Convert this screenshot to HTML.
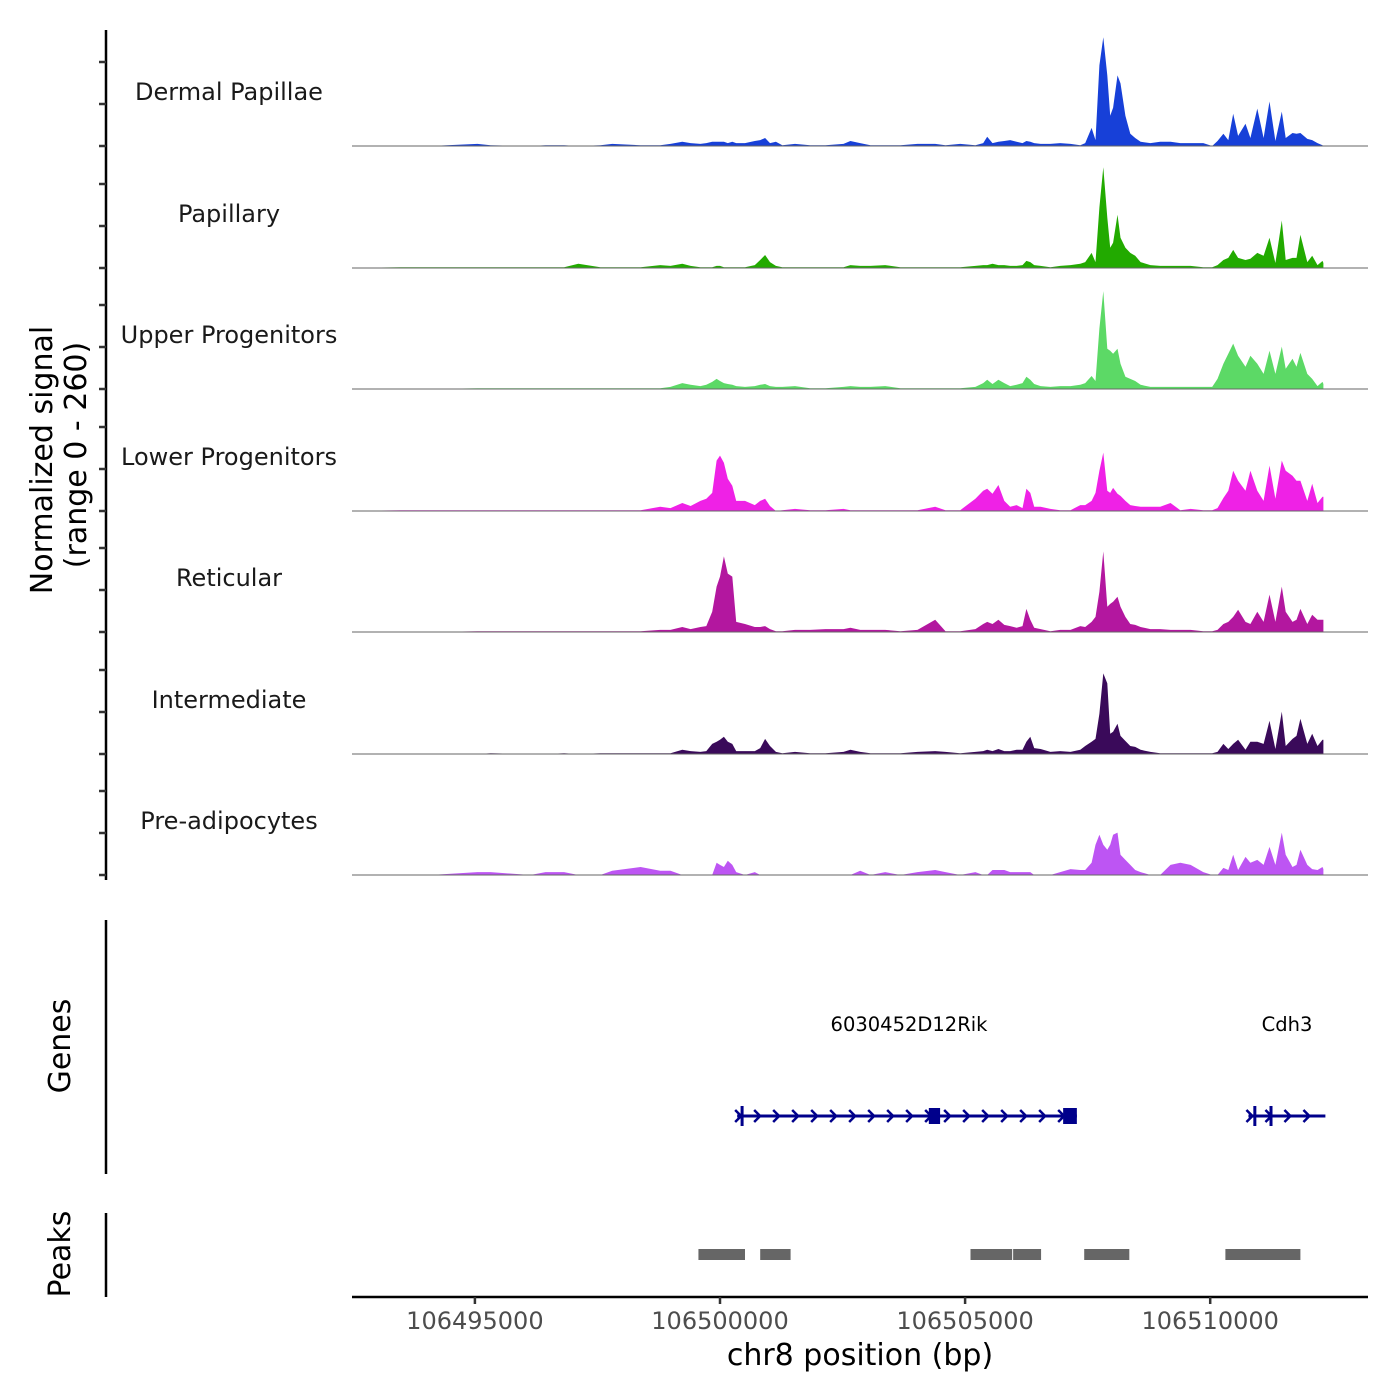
<!DOCTYPE html>
<html><head><meta charset="utf-8"><style>
html,body{margin:0;padding:0;background:#fff;}
svg{display:block;font-family:"DejaVu Sans","Liberation Sans",sans-serif;}
</style></head><body>
<svg id="chart" width="1400" height="1400" viewBox="0 0 1400 1400" xmlns="http://www.w3.org/2000/svg">
<rect width="1400" height="1400" fill="#fff"/>
<g id="tracks"></g>
<g id="ylabels"></g>
<line x1="106" y1="30" x2="106" y2="880" stroke="#000" stroke-width="2.5"/>
<g id="yticks"></g>
<text transform="translate(52,460) rotate(-90)" text-anchor="middle" font-size="30" fill="#000">Normalized signal</text>
<text transform="translate(86,455) rotate(-90)" text-anchor="middle" font-size="30" fill="#000">(range 0 - 260)</text>
<line x1="106" y1="920" x2="106" y2="1174" stroke="#000" stroke-width="2.5"/>
<text transform="translate(70,1046) rotate(-90)" text-anchor="middle" font-size="30" fill="#000">Genes</text>
<g id="genes"></g>
<line x1="106" y1="1213" x2="106" y2="1297" stroke="#000" stroke-width="2.5"/>
<text transform="translate(70,1254) rotate(-90)" text-anchor="middle" font-size="30" fill="#000">Peaks</text>
<g id="peaks"></g>
<line x1="352" y1="1297" x2="1368" y2="1297" stroke="#000" stroke-width="2.5"/>
<g id="xticks"></g>
<text x="860" y="1365" text-anchor="middle" font-size="30" fill="#000">chr8 position (bp)</text>
</svg>
<script>
// positions in kb (chr8)
const positions = [106492.50,106493.48,106494.09,106495.05,106495.32,106496.13,106496.44,106496.82,106497.11,106497.56,
106497.80,106498.38,106498.78,106498.99,106499.23,106499.40,106499.60,106499.72,106499.84,106499.93,
106500.00,106500.08,106500.16,106500.25,106500.33,106500.51,106500.71,106500.82,106500.92,106501.02,
106501.14,106501.27,106501.53,106501.84,106502.15,106502.52,106502.66,106502.86,106503.07,106503.37,
106503.68,106504.03,106504.39,106504.60,106504.90,106505.21,106505.37,106505.45,106505.56,106505.68,
106505.80,106505.92,106506.05,106506.17,106506.25,106506.33,106506.41,106506.54,106506.74,106506.94,
106507.15,106507.35,106507.45,106507.58,106507.66,106507.74,106507.82,106507.90,106507.96,106508.02,
106508.11,106508.17,106508.27,106508.37,106508.47,106508.58,106508.78,106508.98,106509.19,106509.39,
106509.60,106509.86,106510.04,106510.15,106510.27,106510.37,106510.47,106510.57,106510.72,106510.82,
106510.96,106511.09,106511.21,106511.33,106511.46,106511.54,106511.68,106511.76,106511.84,106511.98,
106512.08,106512.19,106512.29,106512.31];
const trackNames = ["Dermal Papillae","Papillary","Upper Progenitors","Lower Progenitors","Reticular","Intermediate","Pre-adipocytes"];
const valsDermalPapillae = [0,0,0,5,2,0,2,2,0,2, 5,2,2,5,10,7,5,7,10,10, 10,10,7,10,7,7,12,14,19,7, 10,2,5,2,2,5,12,7,2,2, 2,5,5,2,5,2,7,22,7,10, 12,14,10,7,12,10,7,5,5,7, 5,2,7,43,14,192,259,168,72,91, 168,149,72,29,19,10,7,10,10,7, 7,7,0,12,29,14,77,24,53,19, 89,19,106,12,82,19,31,29,31,17, 14,7,2,0];
const valsPapillary = [0,2,2,2,2,2,2,2,10,2, 2,2,7,5,10,5,2,2,2,5, 5,2,2,2,2,2,7,19,31,14, 5,2,2,2,2,2,7,5,5,7, 2,2,2,2,2,5,7,7,10,7, 7,5,5,7,17,14,7,5,2,5, 7,10,14,36,14,144,240,120,48,60, 127,72,48,36,29,14,7,5,5,5, 5,2,2,7,19,24,43,24,19,22, 36,29,72,12,113,19,24,24,79,14, 29,7,17,12];
const valsUpperProg = [0,0,0,2,2,2,2,2,2,2, 2,2,2,5,14,10,7,10,17,24, 19,14,12,10,7,5,7,10,12,7, 5,5,7,2,2,5,7,5,5,7, 2,2,2,2,2,5,14,22,12,22, 14,7,10,14,29,22,12,7,5,7, 7,10,14,31,19,144,233,96,91,84, 96,60,29,24,19,10,5,5,5,5, 5,5,5,24,60,84,108,79,53,79, 60,36,91,36,101,48,72,53,86,36, 24,7,17,12];
const valsLowerProg = [0,2,2,2,2,2,2,2,2,2, 2,2,10,7,19,12,24,29,43,120, 132,115,77,60,24,24,14,24,29,12, 0,2,5,2,2,5,2,2,2,2, 2,2,10,2,2,29,48,53,41,62, 24,10,14,7,53,43,10,10,5,2, 2,14,14,24,43,96,139,48,43,55, 41,36,24,14,12,10,10,10,19,2, 5,2,2,7,31,48,96,72,48,96, 48,24,108,29,120,96,84,72,72,24, 65,19,34,34];
const valsReticular = [0,0,0,2,2,2,2,2,2,2, 2,2,5,5,12,7,12,14,48,108, 132,180,139,132,24,19,12,12,14,7, 2,2,5,5,7,7,10,5,5,5, 2,5,29,2,2,7,19,24,19,29, 17,14,10,14,55,29,10,7,2,5, 5,14,12,24,36,96,192,60,67,72, 84,60,36,19,17,12,7,7,5,5, 5,2,2,5,19,24,36,53,24,19, 48,24,89,24,108,48,24,29,55,19, 41,29,29,29];
const valsIntermediate = [0,0,0,0,2,0,0,2,0,2, 2,2,2,2,10,7,5,7,24,29, 34,41,29,24,7,7,7,14,36,19, 5,2,5,2,2,5,10,5,2,2, 2,5,7,5,2,5,7,10,7,12, 7,7,10,10,29,41,14,12,5,7, 5,10,19,29,36,96,192,168,48,53, 72,43,31,19,17,10,5,2,2,2, 2,2,2,5,24,12,24,34,10,29, 29,24,79,12,101,19,36,43,84,24, 48,19,34,34];
const valsPreAdipo = [0,0,0,7,7,0,7,7,0,0, 10,19,10,10,0,0,0,0,0,29, 24,19,34,24,7,0,7,0,0,0, 0,0,0,0,0,0,0,10,0,7, 0,7,12,7,0,7,0,0,12,12, 12,7,7,7,7,7,0,0,0,7, 14,12,12,29,72,96,72,60,72,96, 101,48,36,24,12,7,0,0,24,29, 24,7,0,0,17,12,48,12,43,29, 36,24,67,24,101,48,19,24,60,24, 14,12,19,14];
const trackColors = ["#1740d8","#22aa00","#5cd966","#ef21e6","#b3179f","#3a0a5a","#bd55f3"];
const yTickValues = [0,100,200];
const xTickValues = [106495,106500,106505,106510];
const geneNames = ["6030452D12Rik","Cdh3"];
const geneStarts = [106500.35,106510.78];
const geneEnds = [106507.28,106512.35];
const exonStarts = [106500.42,106504.26,106507.00,106510.88,106511.21];
const exonEnds = [106500.46,106504.49,106507.28,106510.94,106511.27];
const exonTall = [0,1,1,0,0];
const peakStarts = [106499.56,106500.82,106505.11,106505.98,106507.43,106510.31];
const peakEnds = [106500.51,106501.44,106505.96,106506.55,106508.35,106511.84];

const NS="http://www.w3.org/2000/svg";
const allVals=[valsDermalPapillae,valsPapillary,valsUpperProg,valsLowerProg,valsReticular,valsIntermediate,valsPreAdipo];
function xScale(kb){return 720+(kb-106500)/0.0204;}
const baselines=[146,268,389,511,632,754,875];
function yScale(v,i){return baselines[i]-v*0.42;}
function mk(tag,attrs,parent){const e=document.createElementNS(NS,tag);for(const k in attrs)e.setAttribute(k,attrs[k]);parent.appendChild(e);return e;}

const tracks=document.getElementById('tracks'), yl=document.getElementById('ylabels'), yt=document.getElementById('yticks');
allVals.forEach((vals,i)=>{
  const n=Math.min(vals.length,positions.length);
  let d="M"+xScale(positions[0]).toFixed(1)+","+baselines[i];
  for(let k=0;k<n;k++){d+=" L"+xScale(positions[k]).toFixed(1)+","+yScale(vals[k],i).toFixed(1);}
  d+=" L"+xScale(positions[n-1]).toFixed(1)+","+baselines[i]+" Z";
  const p=mk('path',{d:d,fill:trackColors[i]},tracks);
  
  
  const bl=mk('line',{x1:352,x2:1368,y1:baselines[i],y2:baselines[i],stroke:'#666','stroke-width':1},tracks);
  
  
  const t=mk('text',{x:229,y:baselines[i]-46,'text-anchor':'middle','font-size':'24',fill:'#1a1a1a'},yl);
  t.textContent=trackNames[i];
  
  
  yTickValues.forEach(v=>{
    const y=yScale(v,i);
    const tk=mk('line',{x1:99,x2:106,y1:y,y2:y,stroke:'#333','stroke-width':2.5},yt);
    
    
  });
});

const genes=document.getElementById('genes');
const GY=1116;
geneNames.forEach((g,i)=>{
  const x1=xScale(geneStarts[i]), x2=xScale(geneEnds[i]);
  const ln=mk('line',{x1:x1,x2:x2,y1:GY,y2:GY,stroke:'#00008b','stroke-width':3},genes);
  
  
  for(let x=x1+2;x<=x2;x+=19){
    const a=mk('path',{d:`M${x-4},${GY-6} L${x+2},${GY} L${x-4},${GY+6}`,fill:'none',stroke:'#00008b','stroke-width':2.5},genes);
    
    
  }
  const t=mk('text',{x:(i===0?909:1287),y:1031,'text-anchor':'middle','font-size':'19.5',fill:'#000'},genes);
  t.textContent=g;
  
  
});
exonStarts.forEach((s,i)=>{
  const x1=xScale(s), x2=xScale(exonEnds[i]);
  const w=Math.max(3,x2-x1);
  const r=mk('rect',{x:x1,y:GY-(exonTall[i]?8:10),width:w,height:exonTall[i]?16:20,fill:'#00008b'},genes);
  
  
});

const peaks=document.getElementById('peaks');
peakStarts.forEach((s,i)=>{
  const r=mk('rect',{x:xScale(s),y:1249,width:xScale(peakEnds[i])-xScale(s),height:11,fill:'#666'},peaks);
  
  
});

const xt=document.getElementById('xticks');
xTickValues.forEach(v=>{
  const x=xScale(v);
  const l=mk('line',{x1:x,x2:x,y1:1297,y2:1304,stroke:'#333','stroke-width':2.5},xt);
  
  
  const t=mk('text',{x:x,y:1329,'text-anchor':'middle','font-size':'24',fill:'#4d4d4d'},xt);
  t.textContent=String(Math.round(v*1000));
  
  
});
</script>
</body></html>
